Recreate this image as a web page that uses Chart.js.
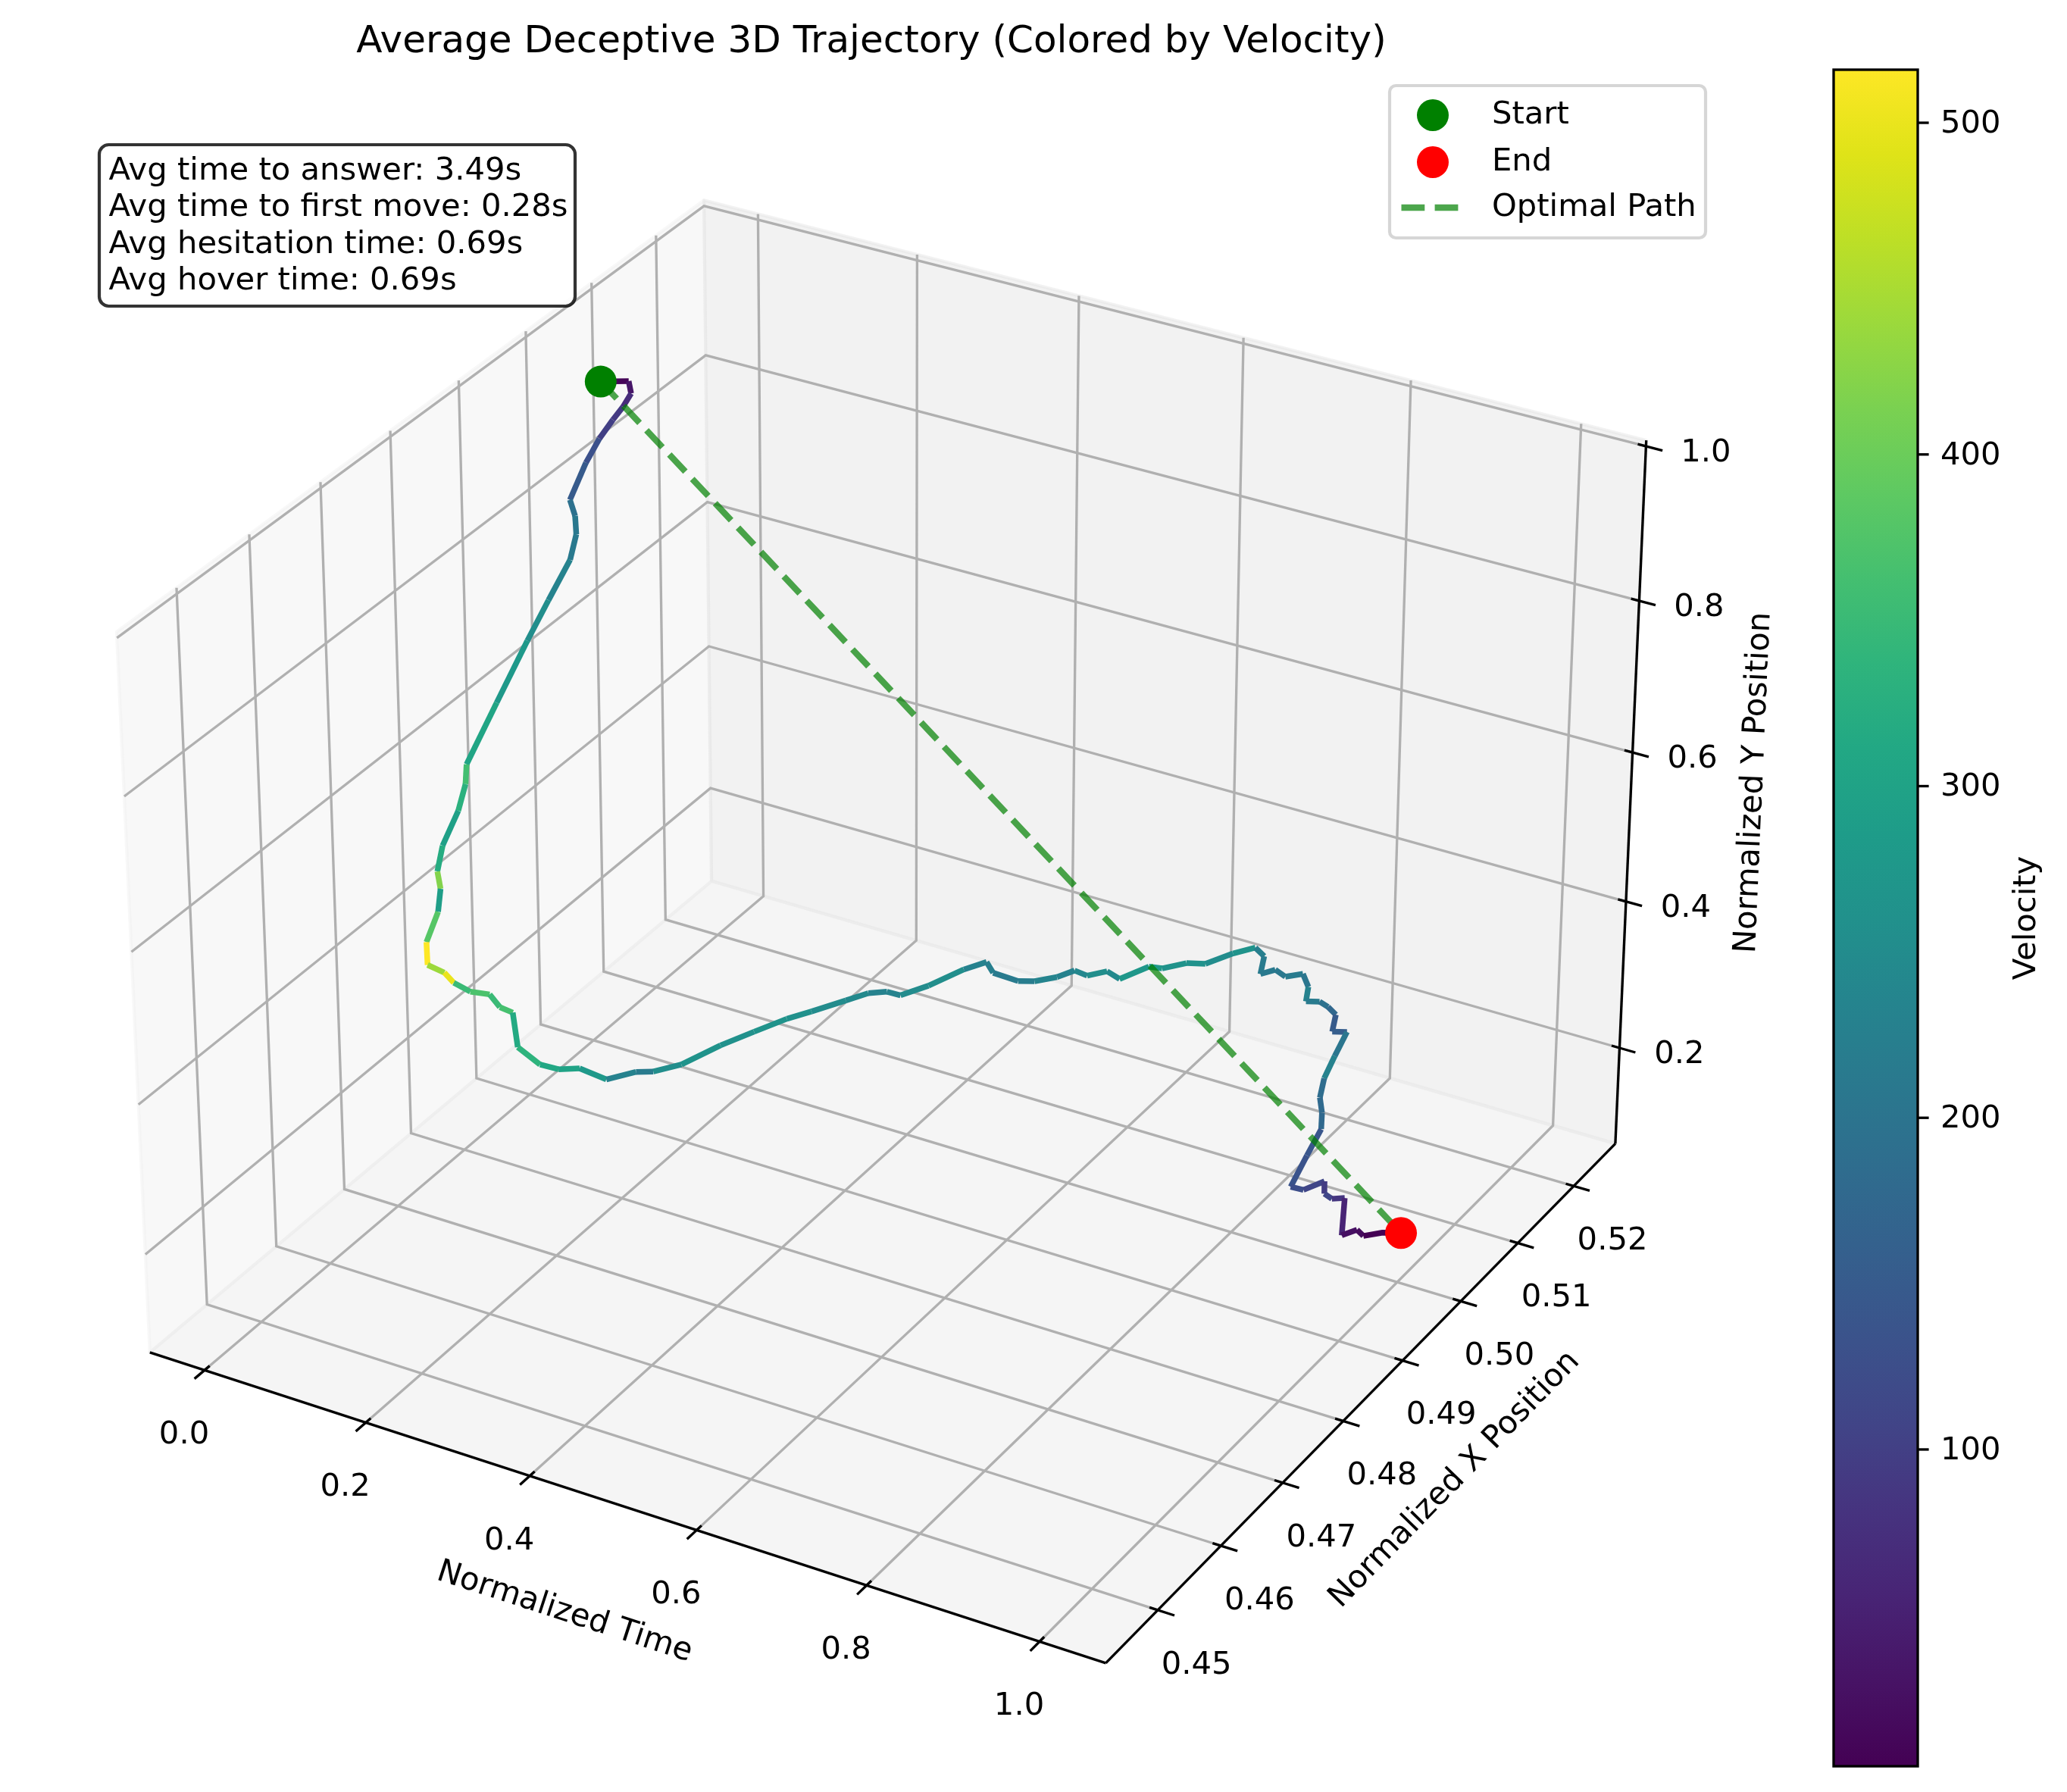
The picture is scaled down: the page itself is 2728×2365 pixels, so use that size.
<!DOCTYPE html>
<html><head><meta charset="utf-8">
<script src="https://cdn.jsdelivr.net/npm/chart.js@4"></script>
<style>html,body{margin:0;padding:0;background:#fff;}#wrap{position:relative;width:2728px;height:2365px;}</style>
</head><body><div id="wrap"><canvas id="c" width="2728" height="2365"></canvas></div>
<script>
// ---------------- data ----------------
const TIME = [0.0000,0.0111,0.0222,0.0333,0.0444,0.0556,0.0667,0.0778,0.0889,0.1000,
0.1111,0.1222,0.1333,0.1444,0.1556,0.1667,0.1778,0.1889,0.2000,0.2111,
0.2222,0.2333,0.2444,0.2556,0.2667,0.2778,0.2889,0.3000,0.3111,0.3222,
0.3333,0.3444,0.3556,0.3667,0.3778,0.3889,0.4000,0.4111,0.4222,0.4333,
0.4444,0.4556,0.4667,0.4778,0.4889,0.5000,0.5111,0.5222,0.5333,0.5444,
0.5556,0.5667,0.5778,0.5889,0.6000,0.6111,0.6222,0.6333,0.6444,0.6556,
0.6667,0.6778,0.6889,0.7000,0.7111,0.7222,0.7333,0.7444,0.7556,0.7667,
0.7778,0.7889,0.8000,0.8111,0.8222,0.8333,0.8444,0.8556,0.8667,0.8778,
0.8889,0.9000,0.9111,0.9222,0.9333,0.9444,0.9556,0.9667,0.9778,0.9889,1.0000];

const XPOS = [0.5029,0.5058,0.5048,0.5022,0.4993,0.4959,0.4925,0.4887,0.4881,0.4869,
0.4846,0.4800,0.4755,0.4696,0.4638,0.4623,0.4599,0.4563,0.4542,0.4533,
0.4516,0.4486,0.4474,0.4484,0.4484,0.4494,0.4508,0.4509,0.4514,0.4507,
0.4525,0.4538,0.4555,0.4580,0.4610,0.4622,0.4650,0.4695,0.4732,0.4768,
0.4792,0.4831,0.4852,0.4867,0.4874,0.4904,0.4946,0.4968,0.4964,0.4990,
0.5002,0.5024,0.5038,0.5044,0.5062,0.5068,0.5102,0.5109,0.5135,0.5152,
0.5184,0.5207,0.5207,0.5185,0.5195,0.5197,0.5212,0.5206,0.5186,0.5194,
0.5193,0.5191,0.5169,0.5179,0.5142,0.5108,0.5085,0.5073,0.5056,0.5016,
0.4973,0.4979,0.4999,0.4983,0.4980,0.4986,0.4966,0.4976,0.4971,0.4988,0.5004];

const YPOS = [0.9423,0.9273,0.9206,0.9230,0.9280,0.9288,0.9229,0.9028,0.8892,0.8764,
0.8620,0.8440,0.8256,0.7898,0.7543,0.7430,0.7290,0.7136,0.6990,0.6867,
0.6730,0.6597,0.6428,0.6292,0.6196,0.6043,0.5938,0.5802,0.5730,0.5371,
0.5044,0.4920,0.4839,0.4540,0.4446,0.4396,0.4312,0.4260,0.4197,0.4133,
0.4087,0.3977,0.3954,0.3897,0.3832,0.3773,0.3714,0.3687,0.3606,0.3336,
0.3280,0.3209,0.3229,0.3150,0.3111,0.2998,0.2949,0.2908,0.2823,0.2722,
0.2663,0.2608,0.2526,0.2479,0.2500,0.2424,0.2387,0.2288,0.2274,0.2247,
0.2217,0.2161,0.2130,0.2086,0.2071,0.2061,0.2009,0.1931,0.1875,0.1861,
0.1809,0.1757,0.1756,0.1749,0.1741,0.1742,0.1430,0.1465,0.1458,0.1407,0.1313];

// velocity of each segment (point i -> point i+1)
const VELOCITY = [10,35,70,90,100,130,150,195,210,212,232,255,280,305,360,330,295,320,420,290,380,516,440,500,350,370,350,365,315,335,310,300,280,230,215,255,265,260,265,260,250,245,230,232,250,255,230,225,215,220,235,230,240,255,245,275,280,265,262,252,265,225,215,212,210,215,205,230,215,195,175,150,155,205,230,185,180,178,140,135,125,110,95,110,85,55,25,20,4.5,5];

const TIME_TICKS = [0.0,0.2,0.4,0.6,0.8,1.0];
const XPOS_TICKS = [0.45,0.46,0.47,0.48,0.49,0.50,0.51,0.52];
const YPOS_TICKS = [0.2,0.4,0.6,0.8,1.0];
const CB_TICKS = [100,200,300,400,500];
const STATS = ['Avg time to answer: 3.49s','Avg time to first move: 0.28s','Avg hesitation time: 0.69s','Avg hover time: 0.69s'];

// ---------------- view geometry (matplotlib-style perspective 3D) ----------------
const W_PX=2728, H_PX=2365, S=12650, CX=1182, CY=1185;
const LIM_T=[-0.06867,1.0756], LIM_X=[0.44191,0.52756], LIM_Y=[0.06721,1.00757];
const ASPECT=[8/7,8/7,6/7], ELEV=30, AZIM=-60, DIST=10;
const d2r=Math.PI/180;
const dot=(a,b)=>a[0]*b[0]+a[1]*b[1]+a[2]*b[2];
const WV=[Math.cos(ELEV*d2r)*Math.cos(AZIM*d2r),Math.cos(ELEV*d2r)*Math.sin(AZIM*d2r),Math.sin(ELEV*d2r)];
const RC=ASPECT.map(a=>a/2);
const EYE=RC.map((r,i)=>r+DIST*WV[i]);
let UV=[-WV[1],WV[0],0]; {const n=Math.hypot(...UV); UV=UV.map(v=>v/n);}
const VV=[WV[1]*UV[2]-WV[2]*UV[1],WV[2]*UV[0]-WV[0]*UV[2],WV[0]*UV[1]-WV[1]*UV[0]];
function projF(f){const p=[f[0]*ASPECT[0],f[1]*ASPECT[1],f[2]*ASPECT[2]];const d=[p[0]-EYE[0],p[1]-EYE[1],p[2]-EYE[2]];const w=-dot(WV,d);return {x:dot(UV,d)/w,y:dot(VV,d)/w};}
function frac(t,x,y){return [(t-LIM_T[0])/(LIM_T[1]-LIM_T[0]),(x-LIM_X[0])/(LIM_X[1]-LIM_X[0]),(y-LIM_Y[0])/(LIM_Y[1]-LIM_Y[0])];}
function proj(t,x,y){return projF(frac(t,x,y));}

const VIR=[[68,1,84],[71,19,101],[72,36,117],[70,51,127],[65,68,135],[59,82,139],[53,95,141],[47,108,142],[42,120,142],[37,132,142],[33,145,140],[30,156,137],[34,168,132],[47,180,124],[68,191,112],[94,201,98],[122,209,81],[155,217,60],[189,223,38],[223,227,24],[253,231,37]];
function viridis(s){s=Math.max(0,Math.min(1,s));const k=s*20;const i=Math.min(19,Math.floor(k));const f=k-i;const a=VIR[i],b=VIR[i+1];return 'rgb('+[0,1,2].map(j=>Math.round(a[j]+(b[j]-a[j])*f)).join(',')+')';}
const VMIN=Math.min(...VELOCITY), VMAX=Math.max(...VELOCITY);
const vnorm=v=>(v-VMIN)/(VMAX-VMIN);

const N=TIME.length;
const trajPts=TIME.map((t,i)=>proj(t,XPOS[i],YPOS[i]));
const startPt=trajPts[0], endPt=trajPts[N-1];

const CB_TOP=92, CB_BOT=2331, CB_L=2420, CB_R=2531;
const cbPer=(CB_BOT-CB_TOP)/(VMAX-VMIN);
const FONT="'DejaVu Sans', sans-serif";
const FS=41.7;

const axes3d={id:'axes3d',
 beforeDatasetsDraw(chart){const ctx=chart.ctx, sx=chart.scales.x, sy=chart.scales.y;
  const P=f=>{const q=projF(f);return [sx.getPixelForValue(q.x),sy.getPixelForValue(q.y)];};
  ctx.save();
  function poly(fs,fill,stroke,lw){ctx.beginPath();fs.forEach((f,i)=>{const p=P(f);i?ctx.lineTo(p[0],p[1]):ctx.moveTo(p[0],p[1]);});if(fill){ctx.closePath();ctx.fillStyle=fill;ctx.fill();}if(stroke){ctx.strokeStyle=stroke;ctx.lineWidth=lw;ctx.stroke();}}
  ctx.lineJoin='round';
  poly([[0,0,0],[0,1,0],[0,1,1],[0,0,1]],'rgba(242,242,242,0.5)','rgba(242,242,242,0.5)',4.2);
  poly([[0,1,0],[1,1,0],[1,1,1],[0,1,1]],'rgba(230,230,230,0.5)','rgba(230,230,230,0.5)',4.2);
  poly([[0,0,0],[1,0,0],[1,1,0],[0,1,0]],'rgba(236,236,236,0.5)','rgba(236,236,236,0.5)',4.2);
  ctx.lineJoin='miter';
  const GC='#b0b0b0', GW=3.33;
  TIME_TICKS.forEach(v=>{const f=frac(v,0,0)[0];poly([[f,0,0],[f,1,0],[f,1,1]],null,GC,GW);});
  XPOS_TICKS.forEach(v=>{const f=frac(0,v,0)[1];poly([[1,f,0],[0,f,0],[0,f,1]],null,GC,GW);});
  YPOS_TICKS.forEach(v=>{const f=frac(0,0,v)[2];poly([[0,0,f],[0,1,f],[1,1,f]],null,GC,GW);});
  poly([[0,0,0],[1,0,0]],null,'#000',3.33);
  poly([[1,0,0],[1,1,0]],null,'#000',3.33);
  poly([[1,1,0],[1,1,1]],null,'#000',3.33);
  const tin=0.1/12, tout=0.2/12;
  ctx.fillStyle='#000';ctx.font=FS+'px '+FONT;ctx.textAlign='center';ctx.textBaseline='middle';
  TIME_TICKS.forEach(v=>{const f=frac(v,0,0)[0];poly([[f,tin,0],[f,-tout,0]],null,'#000',3.33);const p=P([f,0,0]);ctx.fillText(v.toFixed(1),p[0]-27,p[1]+86);});
  XPOS_TICKS.forEach(v=>{const f=frac(0,v,0)[1];poly([[1-tin,f,0],[1+tout,f,0]],null,'#000',3.33);const p=P([1,f,0]);ctx.fillText(v.toFixed(2),p[0]+51,p[1]+73);});
  YPOS_TICKS.forEach(v=>{const f=frac(0,0,v)[2];poly([[1-tin,1,f],[1+tout,1,f]],null,'#000',3.33);const p=P([1,1,f]);ctx.fillText(v.toFixed(1),p[0]+79,p[1]+9);});
  const lab=(txt,x,y,ang)=>{ctx.save();ctx.translate(x,y);ctx.rotate(ang*d2r);ctx.fillText(txt,0,0);ctx.restore();};
  lab('Normalized Time',745,2128,18.0);
  lab('Normalized X Position',1920,1953,-45.8);
  lab('Normalized Y Position',2315,1033,-87.5);
  ctx.restore();
 },
 afterDatasetsDraw(chart){const ctx=chart.ctx, cb=chart.scales.cb;
  ctx.save();
  ctx.fillStyle='#000';ctx.font='50px '+FONT;ctx.textAlign='center';ctx.textBaseline='alphabetic';
  ctx.fillText('Average Deceptive 3D Trajectory (Colored by Velocity)',1150,69);
  const rr=(x,y,w,h,r)=>{ctx.beginPath();ctx.moveTo(x+r,y);ctx.arcTo(x+w,y,x+w,y+h,r);ctx.arcTo(x+w,y+h,x,y+h,r);ctx.arcTo(x,y+h,x,y,r);ctx.arcTo(x,y,x+w,y,r);ctx.closePath();};
  rr(131,191,628,213,12.5);ctx.fillStyle='rgba(255,255,255,0.8)';ctx.fill();ctx.strokeStyle='rgba(0,0,0,0.8)';ctx.lineWidth=4.2;ctx.stroke();
  ctx.fillStyle='#000';ctx.font=FS+'px '+FONT;ctx.textAlign='left';
  STATS.forEach((s,i)=>ctx.fillText(s,143.5,236.5+i*48.6));
  rr(1834,113,417,201,8.3);ctx.fillStyle='rgba(255,255,255,0.8)';ctx.fill();ctx.strokeStyle='rgba(204,204,204,0.8)';ctx.lineWidth=4.2;ctx.stroke();
  const ds=chart.data.datasets;
  ctx.textBaseline='middle';
  [[ds[0],152],[ds[1],214]].forEach(([d,y])=>{ctx.beginPath();ctx.arc(1891,y,21,0,2*Math.PI);ctx.fillStyle=d.backgroundColor;ctx.fill();ctx.fillStyle='#000';ctx.fillText(d.label,1969,y);});
  ctx.beginPath();ctx.moveTo(1849.5,274);ctx.lineTo(1925,274);ctx.setLineDash(ds[2].borderDash);ctx.strokeStyle=ds[2].borderColor;ctx.lineWidth=ds[2].borderWidth;ctx.stroke();ctx.setLineDash([]);
  ctx.fillStyle='#000';ctx.fillText(ds[2].label,1969,274);
  const yT=cb.getPixelForValue(VMAX), yB=cb.getPixelForValue(VMIN);
  const g=ctx.createLinearGradient(0,yB,0,yT);
  for(let i=0;i<=20;i++){g.addColorStop(i/20,viridis(i/20));}
  ctx.fillStyle=g;ctx.fillRect(CB_L,yT,CB_R-CB_L,yB-yT);
  ctx.strokeStyle='#000';ctx.lineWidth=3.33;ctx.strokeRect(CB_L,yT,CB_R-CB_L,yB-yT);
  ctx.fillStyle='#000';ctx.textAlign='left';ctx.textBaseline='middle';
  CB_TICKS.forEach(v=>{const y=cb.getPixelForValue(v);ctx.beginPath();ctx.moveTo(CB_R,y);ctx.lineTo(CB_R+14.6,y);ctx.stroke();ctx.fillText(String(v),2561,y+2);});
  ctx.save();ctx.translate(2675,(yT+yB)/2);ctx.rotate(-Math.PI/2);ctx.textAlign='center';ctx.fillText('Velocity',0,0);ctx.restore();
  ctx.restore();
 }};

new Chart(document.getElementById('c'),{
 type:'scatter',
 data:{datasets:[
  {label:'Start',type:'scatter',data:[startPt],backgroundColor:'#008000',pointRadius:21,pointBorderWidth:0,order:0},
  {label:'End',type:'scatter',data:[endPt],backgroundColor:'#ff0000',pointRadius:21,pointBorderWidth:0,order:0},
  {label:'Optimal Path',type:'line',data:[startPt,endPt],borderColor:'rgba(0,128,0,0.7)',borderWidth:8.3,borderDash:[30.8,13.3],pointRadius:0,fill:false,order:1},
  {label:'Trajectory',type:'line',data:trajPts,borderWidth:7.5,pointRadius:0,fill:false,borderJoinStyle:'round',borderCapStyle:'butt',order:2,
   segment:{borderColor:c=>viridis(vnorm(VELOCITY[c.p0DataIndex]))}}
 ]},
 options:{responsive:false,devicePixelRatio:1,animation:false,events:[],
  layout:{padding:0,autoPadding:false},
  plugins:{legend:{display:false},title:{display:false},tooltip:{enabled:false}},
  scales:{
   x:{type:'linear',display:false,min:(0-CX)/S,max:(W_PX-CX)/S},
   y:{type:'linear',display:false,min:(CY-H_PX)/S,max:CY/S},
   cb:{type:'linear',axis:'y',display:false,min:VMIN-(H_PX-CB_BOT)/cbPer,max:VMAX+CB_TOP/cbPer}
  }},
 plugins:[axes3d]
});
</script></body></html>
